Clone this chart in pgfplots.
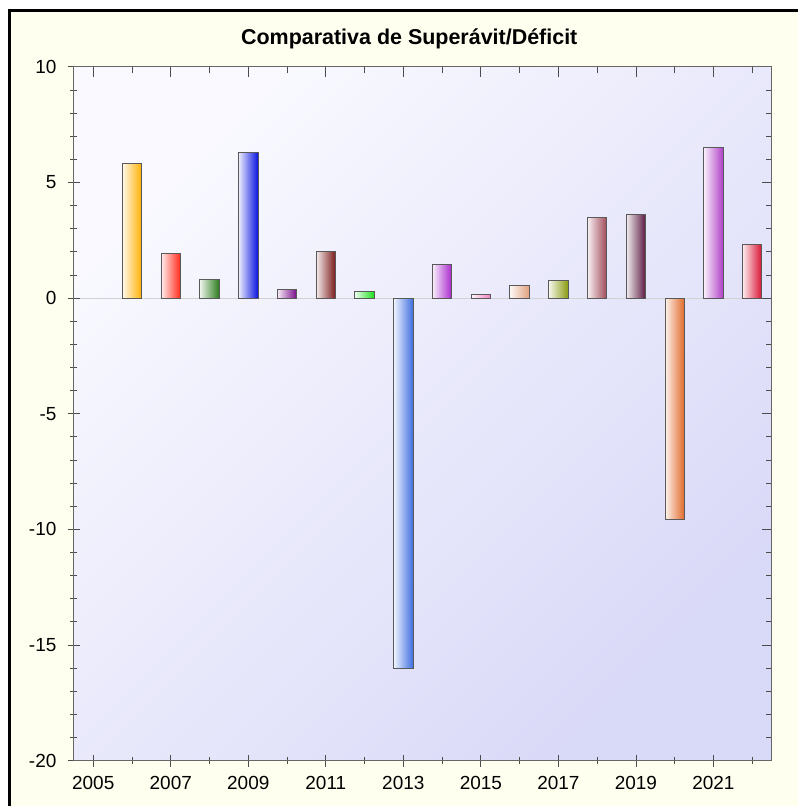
\documentclass[border=0pt]{standalone}
\usepackage{fontspec}
\setmainfont{Liberation Sans}
\usepackage{pgfplots}
\pgfplotsset{compat=1.18}
\definecolor{cream}{HTML}{FFFFF0}
\definecolor{bgA}{HTML}{F9F9FF}
\definecolor{bgB}{HTML}{D9D9F8}
\definecolor{c06}{HTML}{FFB000}
\definecolor{c07}{HTML}{FF2A1A}
\definecolor{c08}{HTML}{2A7A1A}
\definecolor{c09}{HTML}{0A14E0}
\definecolor{c10}{HTML}{7A0A8A}
\definecolor{c11}{HTML}{7A1A1A}
\definecolor{c12}{HTML}{1AE01A}
\definecolor{c13}{HTML}{3F6FE0}
\definecolor{c14}{HTML}{A828CC}
\definecolor{c15}{HTML}{F080C0}
\definecolor{c16}{HTML}{E0A080}
\definecolor{c17}{HTML}{8A9A10}
\definecolor{c18}{HTML}{A04858}
\definecolor{c19}{HTML}{5A1A40}
\definecolor{c20}{HTML}{E06A2A}
\definecolor{c21}{HTML}{B040C8}
\definecolor{c22}{HTML}{D81030}
\pgfplotsset{mybar/.style={ybar, bar width=0.5, bar shift=0pt, draw=black!65, line width=0.9pt, left color=#1!8!white, right color=#1}}
\begin{document}
\begin{tikzpicture}
\fill[white] (0pt,0pt) rectangle (799pt,807pt);
\fill[cream] (10pt,0pt) rectangle (799pt,796pt);
\draw[black, line width=3pt] (10pt,0pt) -- (10pt,796pt) -- (799pt,796pt);
\node[font=\fontsize{21.5}{21.5}\selectfont\bfseries] at (410pt,768pt) {Comparativa de Superávit/Déficit};
\begin{axis}[
  at={(74pt,45pt)}, anchor=south west,
  width=699pt, height=695pt, scale only axis,
  xmin=2004.5, xmax=2022.5, ymin=-20, ymax=10,
  xtick={2005,2007,...,2021},
  minor xtick={2006,2008,...,2022},
  ytick={-20,-15,...,10},
  minor y tick num=4,
  xtick pos=left, ytick pos=left,
  tick align=center,
  major tick length=12pt, minor tick length=7pt,
  tick style={black!70, line width=0.8pt},
  axis line style={black!60, line width=1pt},
  axis background/.style={top color=bgA, bottom color=bgB, shading angle=45},
  /pgf/number format/assume math mode=true,
  /pgf/number format/1000 sep={},
  tick label style={font=\fontsize{19}{19}\selectfont},
  xticklabel style={yshift=-6pt},
  yticklabel style={xshift=-8pt},
  extra y ticks={0}, extra y tick labels={},
  extra y tick style={grid=major, major grid style={gray!35, line width=0.8pt}},
]
\addplot[mybar=c06] coordinates {(2006,5.83)};
\addplot[mybar=c07] coordinates {(2007,1.93)};
\addplot[mybar=c08] coordinates {(2008,0.81)};
\addplot[mybar=c09] coordinates {(2009,6.31)};
\addplot[mybar=c10] coordinates {(2010,0.36)};
\addplot[mybar=c11] coordinates {(2011,2.02)};
\addplot[mybar=c12] coordinates {(2012,0.27)};
\addplot[mybar=c13] coordinates {(2013,-16.0)};
\addplot[mybar=c14] coordinates {(2014,1.47)};
\addplot[mybar=c15] coordinates {(2015,0.16)};
\addplot[mybar=c16] coordinates {(2016,0.53)};
\addplot[mybar=c17] coordinates {(2017,0.75)};
\addplot[mybar=c18] coordinates {(2018,3.48)};
\addplot[mybar=c19] coordinates {(2019,3.63)};
\addplot[mybar=c20] coordinates {(2020,-9.57)};
\addplot[mybar=c21] coordinates {(2021,6.50)};
\addplot[mybar=c22] coordinates {(2022,2.33)};
\end{axis}
\begin{axis}[
  at={(74pt,45pt)}, anchor=south west,
  width=699pt, height=695pt, scale only axis,
  xmin=2004.5, xmax=2022.5, ymin=-20, ymax=10,
  xtick={2005,2007,...,2021},
  minor xtick={2006,2008,...,2022},
  ytick={-20,-15,...,10},
  minor y tick num=4,
  xtick pos=right, ytick pos=right,
  xticklabels={}, yticklabels={},
  tick align=inside,
  major tick length=10pt, minor tick length=6pt,
  tick style={black!70, line width=0.8pt},
  axis line style={black!60, line width=1pt},
]
\end{axis}
\end{tikzpicture}
\end{document}
